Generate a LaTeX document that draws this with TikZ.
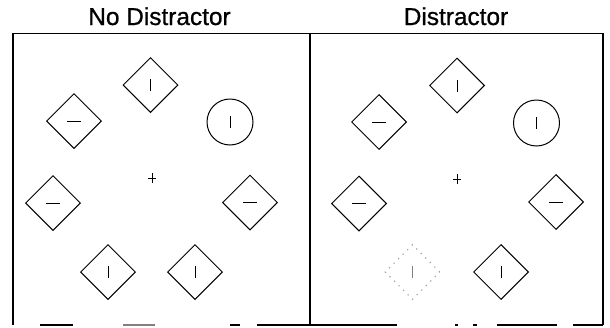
\documentclass[tikz,border=0pt]{standalone}
\usepackage{fontspec}
\setmainfont{Liberation Sans}
\newfontfamily\titlefont[FakeBold=0.8]{Liberation Sans}
\usetikzlibrary{shapes.geometric}
\begin{document}
\begin{tikzpicture}[x=0.5pt,y=-0.5pt,
  stim/.style={diamond, draw, line width=0.5pt, minimum size=27.5pt, inner sep=0pt, aspect=1},
  ring/.style={circle, draw, line width=0.5pt, minimum size=23pt, inner sep=0pt},
  ghost/.style={diamond, draw=gray!70, line width=0.6pt, dash pattern=on 0.6pt off 2.6pt, minimum size=27.5pt, inner sep=0pt, aspect=1},
  bar/.style={line width=0.42pt},
  frame/.style={line width=0.6pt},
  plusmark/.style={line width=0.5pt},
  title/.style={font=\titlefont\fontsize{12.2}{14}\selectfont, anchor=base, inner sep=0pt}]
\useasboundingbox (0,0) rectangle (610,327);

% titles
\node[title] (t1) at (159.5,25) {No Distractor};
\node[title] (t2) at (456,25) {Distractor};

% frames
\coordinate (fa) at (13,33.5);
\coordinate (fb) at (310,33.5);
\coordinate (fc) at (603,33.5);
\coordinate (fd) at (13,325);
\coordinate (fe) at (310,325);
\coordinate (ff) at (603,325);
\draw[frame] (fd) -- (fa) -- (fc) -- (ff);
\draw[frame] (fb) -- (fe);
\draw[frame] (40,325) -- (73,325);
\draw[frame, gray] (123,325) -- (155,325);
\draw[frame] (230,325) -- (240,325);
\draw[frame] (257,325) -- (352,325);
\draw[frame] (352,325) -- (397,325);
\draw[frame] (455,325) -- (458,325);
\draw[frame] (473,325) -- (477,325);
\draw[frame] (497,325) -- (557,325);
\draw[frame] (573,325) -- (603,325);

% left panel
\node[stim] (T1) at (150.5,85) {};
\node[stim] (L1) at (74,121) {};
\node[ring] (C1) at (230,122) {};
\node[stim] (ML1) at (53,203) {};
\node[stim] (MR1) at (250,202.5) {};
\node[stim] (BL1) at (108,272) {};
\node[stim] (BR1) at (195,272) {};
\coordinate (P1) at (152,178);
\draw[plusmark] ([xshift=-2pt]P1) -- ([xshift=2pt]P1);
\draw[plusmark] ([yshift=-2.3pt]P1) -- ([yshift=2.3pt]P1);

\draw[bar] ([yshift=3pt]T1.center) -- ([yshift=-3pt]T1.center);
\draw[bar] ([xshift=-3.5pt]L1.center) -- ([xshift=3.5pt]L1.center);
\draw[bar] ([yshift=2.8pt]C1.center) -- ([yshift=-2.8pt]C1.center);
\draw[bar] ([xshift=-3.5pt]ML1.center) -- ([xshift=3.5pt]ML1.center);
\draw[bar] ([xshift=-3.5pt]MR1.center) -- ([xshift=3.5pt]MR1.center);
\draw[bar] ([yshift=3pt]BL1.center) -- ([yshift=-3pt]BL1.center);
\draw[bar] ([yshift=3pt]BR1.center) -- ([yshift=-3pt]BR1.center);

% right panel
\node[stim] (T2) at (457,85.5) {};
\node[stim] (L2) at (379,122) {};
\node[ring] (C2) at (536.5,123) {};
\node[stim] (ML2) at (359,203.5) {};
\node[stim] (MR2) at (556,202) {};
\node[ghost] (BL2) at (412.5,272) {};
\node[stim] (BR2) at (501,272) {};
\coordinate (P2) at (457,179);
\draw[plusmark] ([xshift=-2pt]P2) -- ([xshift=2pt]P2);
\draw[plusmark] ([yshift=-2.3pt]P2) -- ([yshift=2.3pt]P2);

\draw[bar] ([yshift=3pt]T2.center) -- ([yshift=-3pt]T2.center);
\draw[bar] ([xshift=-3.5pt]L2.center) -- ([xshift=3.5pt]L2.center);
\draw[bar] ([yshift=2.8pt]C2.center) -- ([yshift=-2.8pt]C2.center);
\draw[bar] ([xshift=-3.5pt]ML2.center) -- ([xshift=3.5pt]ML2.center);
\draw[bar] ([xshift=-3.5pt]MR2.center) -- ([xshift=3.5pt]MR2.center);
\draw[bar, gray] ([yshift=3pt]BL2.center) -- ([yshift=-3pt]BL2.center);
\draw[bar] ([yshift=3.2pt]BR2.center) -- ([yshift=-3.2pt]BR2.center);
\end{tikzpicture}
\end{document}
